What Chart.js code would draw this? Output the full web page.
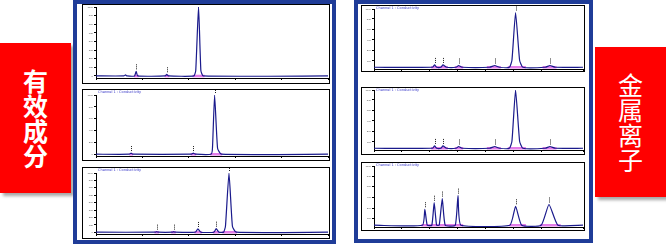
<!DOCTYPE html>
<html>
<head>
<meta charset="utf-8">
<script src="https://cdn.jsdelivr.net/npm/chart.js@4.4.1/dist/chart.umd.min.js"></script>
<style>
  html, body { margin: 0; padding: 0; background: #fff; }
  #stage { position: relative; width: 666px; height: 245px; overflow: hidden; background: #fff; }
  .tag { position: absolute; background: #ff0000; color: #fff; box-shadow: 3px 3px 3px rgba(0,0,0,0.35);
         font-family: "Noto Sans CJK SC", sans-serif; font-weight: 700; font-size: 25px; line-height: 25px;
         display: flex; flex-direction: column; align-items: center; justify-content: center; }
  .frame { position: absolute; border: 4px solid #1f3c98; box-sizing: border-box; }
  .panel { position: absolute; border: 1px solid #000; box-sizing: border-box; background: #fff; }
  .panel canvas { display: block; }
</style>
</head>
<body>
<div id="stage">
  <div class="tag" style="left:0;top:43px;width:71px;height:150px;"><span>有</span><span>效</span><span>成</span><span>分</span></div>
  <div class="tag" style="left:595px;top:47px;width:71px;height:150px;font-weight:400;"><span>金</span><span>属</span><span>离</span><span>子</span></div>
  <div class="frame" style="left:73px;top:0;width:263px;height:244px;"></div>
  <div class="frame" style="left:354px;top:0;width:239px;height:243px;"></div>
</div>
<script>
// retention time (min), signal (% of full scale)
const left1Trace = [[0,0],[3.0,0],[3.18,1.5],[3.35,0],[4.15,0],[4.33,6.7],[4.5,0],[7.45,0],[7.63,2.4],[7.8,0],
  [10.55,0],[10.75,8],[11.05,101],[11.3,8],[11.55,0],[25,0]];
const left1Marks = [[4.33,6.7],[7.63,2.4],[11.05,101]];
const left1Pink = [[4.1,4.6],[7.4,7.9],[10.4,11.7]];

const left2Trace = [[0,0],[3.6,0],[3.78,2],[3.95,0],[10.3,0],[10.5,2],[10.7,0],
  [12.4,0],[12.55,10],[12.78,100],[13.1,10],[13.5,0],[25,0]];
const left2Marks = [[3.78,2],[10.5,2],[12.78,100]];
const left2Pink = [[3.6,4.0],[10.2,10.8],[12.3,13.6]];

const left3Trace = [[0,0],[6.4,0],[6.55,1],[6.7,0],[8.25,0],[8.38,1],[8.5,0],[10.7,0],[10.98,5.5],[11.3,0],
  [12.7,0],[12.95,6],[13.25,0],[13.75,0],[13.95,10],[14.33,100],[14.7,10],[15.1,0],[25,0]];
const left3Marks = [[6.55,1],[8.38,1],[10.98,5.5],[12.95,6],[14.33,100]];
const left3Pink = [[6.3,6.8],[8.1,8.6],[10.6,11.4],[12.6,13.3],[13.6,15.2]];

const right1Trace = [[0,0],[4.2,0],[4.35,4],[4.5,0],[4.8,0],[4.95,4],[5.2,0],[5.9,0],[6.07,3],[6.3,0],
  [8.3,0],[8.67,3],[9.0,0],[9.72,0],[9.9,12],[10.16,94],[10.45,12],[10.68,0],[12.3,0],[12.63,3],[13.0,0],[15,0]];
const right1Marks = [[4.35,4],[4.95,4],[6.07,3],[8.67,3],[10.16,94],[12.63,3]];
const right1Pink = [[4.1,5.3],[5.8,6.4],[8.1,9.1],[9.6,10.9],[12.1,13.1]];

const right2Trace = [[0,0],[4.2,0],[4.35,4],[4.5,0],[4.8,0],[4.95,4],[5.2,0],[5.9,0],[6.07,3],[6.3,0],
  [8.3,0],[8.67,3],[9.0,0],[9.72,0],[9.9,12],[10.16,100],[10.45,12],[10.68,0],[12.3,0],[12.63,3],[13.0,0],[15,0]];
const right2Marks = [[4.35,4],[4.95,4],[6.07,3],[8.67,3],[10.16,100],[12.63,3]];
const right2Pink = [[4.1,5.3],[5.8,6.4],[8.1,9.1],[9.6,10.9],[12.1,13.1]];

const right3Trace = [[0,0],[3.48,0],[3.65,27],[3.82,0],[4.15,0],[4.32,38],[4.49,0],[4.68,0],[4.90,45],[5.11,0],
  [5.83,0],[6.03,50],[6.24,0],[9.75,0],[10.16,32],[10.6,0],[12.0,0],[12.56,35],[13.2,0],[15,0]];
const right3Marks = [[3.65,27],[4.32,38],[4.90,45],[6.03,50],[10.16,32],[12.56,35]];
const right3Pink = [[3.4,6.4],[9.7,10.9],[11.9,13.4]];

const leftTicks9 = [0,12.5,25,37.5,50,62.5,75,87.5,100];
const leftTicks6 = [0,20,40,60,80,100];
const rightTicks = [11,29,47,65,83,100];
const headerText = 'Channel 1 : Conductivity';

const panels = [
  { left:82, top:4, w:248, h:80, trace:left1Trace, marks:left1Marks, pink:left1Pink, xMax:25, step:5, yTicks:leftTicks9, yw:13, padTop:2, xh:5, header:false },
  { left:82, top:89, w:248, h:72, trace:left2Trace, marks:left2Marks, pink:left2Pink, xMax:25, step:5, yTicks:leftTicks6, yw:13, padTop:5, xh:4, header:true },
  { left:82, top:167, w:248, h:72, trace:left3Trace, marks:left3Marks, pink:left3Pink, xMax:25, step:5, yTicks:leftTicks9, yw:13, padTop:5, xh:4, header:true },
  { left:361, top:5, w:224, h:67, trace:right1Trace, marks:right1Marks, pink:right1Pink, xMax:15, step:2, yTicks:rightTicks, yw:12, padTop:3, xh:2, header:true },
  { left:361, top:87, w:224, h:68, trace:right2Trace, marks:right2Marks, pink:right2Pink, xMax:15, step:2, yTicks:rightTicks, yw:12, padTop:2, xh:4, header:true },
  { left:361, top:162, w:224, h:69, trace:right3Trace, marks:right3Marks, pink:right3Pink, xMax:15, step:2, yTicks:rightTicks, yw:12, padTop:3, xh:3, header:true }
];

// dotted peak labels above each apex + small blue header
const peakMarks = {
  id: 'peakMarks',
  afterDatasetsDraw(chart, args, opts) {
    const { ctx, scales: { x, y } } = chart;
    ctx.save();
    ctx.strokeStyle = '#222';
    ctx.lineWidth = 1;
    ctx.setLineDash([1, 1]);
    opts.marks.forEach(([t, v]) => {
      const px = Math.round(x.getPixelForValue(t)) + 0.5;
      const py = y.getPixelForValue(v);
      ctx.beginPath();
      ctx.moveTo(px, Math.max(py - 2, 0));
      ctx.lineTo(px, Math.max(py - 8, 0));
      ctx.stroke();
    });
    ctx.restore();
    if (opts.header) {
      ctx.save();
      ctx.fillStyle = '#3a3ac8';
      ctx.font = '3.5px "DejaVu Sans"';
      ctx.textBaseline = 'top';
      ctx.fillText(opts.header, chart.chartArea.left + 2, 0);
      ctx.restore();
    }
  }
};

const stage = document.getElementById('stage');
panels.forEach(p => {
  const div = document.createElement('div');
  div.className = 'panel';
  div.style.left = p.left + 'px';
  div.style.top = p.top + 'px';
  div.style.width = p.w + 'px';
  div.style.height = p.h + 'px';
  const cv = document.createElement('canvas');
  cv.width = p.w - 2;
  cv.height = p.h - 2;
  div.appendChild(cv);
  stage.appendChild(div);

  const pinkData = p.pink.flatMap(([a, b]) => [{ x: a, y: 0 }, { x: b, y: 0 }, { x: b, y: null }]);

  new Chart(cv, {
    type: 'line',
    data: {
      datasets: [
        { data: p.trace.map(([x, y]) => ({ x, y })), borderColor: '#1a1a8c', borderWidth: 1.2,
          pointRadius: 0, tension: 0.15, fill: false, order: 1 },
        { data: pinkData, borderColor: '#e27be8', borderWidth: 2.5, pointRadius: 0, spanGaps: false, order: 2 }
      ]
    },
    options: {
      responsive: false,
      animation: false,
      devicePixelRatio: 1,
      layout: { padding: { top: p.padTop, right: 1, left: 0, bottom: 0 } },
      plugins: {
        legend: { display: false },
        tooltip: { enabled: false },
        peakMarks: { marks: p.marks, header: p.header ? headerText : '' }
      },
      scales: {
        x: {
          type: 'linear', min: 0, max: p.xMax,
          ticks: { display: false, stepSize: p.step },
          grid: { drawOnChartArea: false, drawTicks: true, tickLength: 2, color: '#000' },
          border: { display: true, color: '#000', width: 1 },
          afterFit: s => { s.height = p.xh; }
        },
        y: {
          min: -3, max: 100,
          afterBuildTicks: s => { s.ticks = p.yTicks.map(v => ({ value: v })); },
          ticks: { font: { size: 2.5 }, color: '#555', padding: 1, callback: v => String(Math.round(v * 10)) },
          grid: { drawOnChartArea: false, drawTicks: true, tickLength: 2, color: '#000' },
          border: { display: true, color: '#000', width: 1 },
          afterFit: s => { s.width = p.yw; s.paddingTop = 0; s.paddingBottom = 0; }
        }
      }
    },
    plugins: [peakMarks]
  });
});
</script>
</body>
</html>
